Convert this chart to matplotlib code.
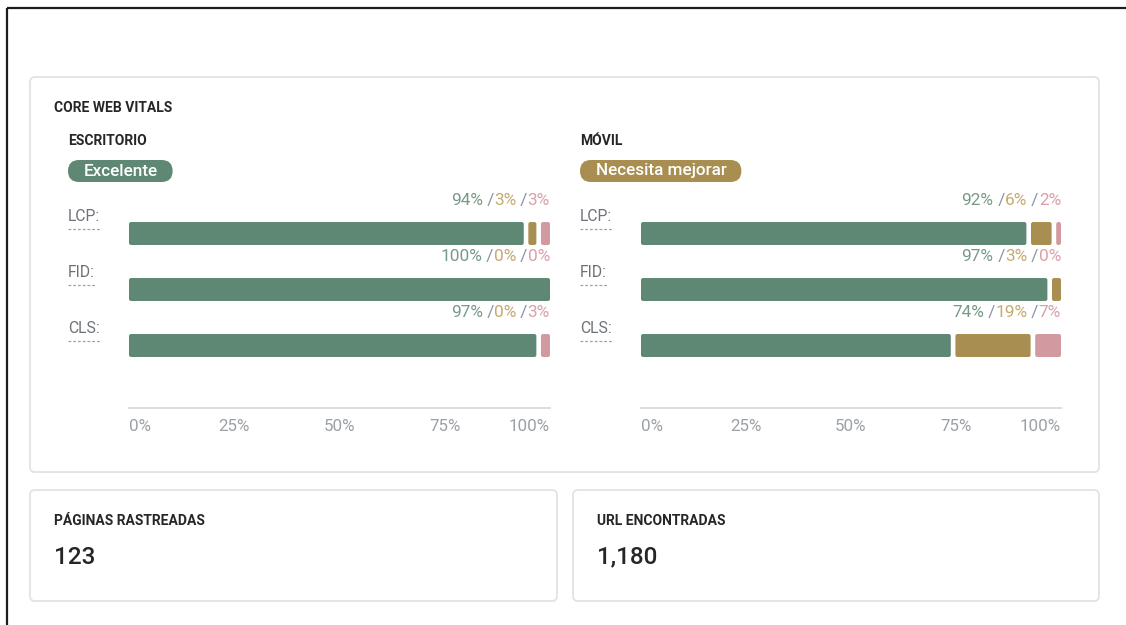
import matplotlib
matplotlib.use("Agg")
import matplotlib.pyplot as plt
from matplotlib.patches import FancyBboxPatch
from matplotlib.lines import Line2D

plt.rcParams['font.family'] = ['Roboto', 'DejaVu Sans']

# ---- data ----
metrics = ["LCP:", "FID:", "CLS:"]
desktop_good = [94, 100, 97]
desktop_improve = [3, 0, 0]
desktop_poor = [3, 0, 3]
mobile_good = [92, 97, 74]
mobile_improve = [6, 3, 19]
mobile_poor = [2, 0, 7]
tick_values = [0, 25, 50, 75, 100]
tick_labels = ["0%", "25%", "50%", "75%", "100%"]
device_titles = ["ESCRITORIO", "MÓVIL"]
device_status = ["Excelente", "Necesita mejorar"]
crawled_pages = 123
found_urls = 1180

# ---- styles ----
GREEN, GOLD, PINK = "#5e8873", "#a88e50", "#d29aa0"
GREEN_T, GOLD_T, PINK_T, SLASH_T = "#779a88", "#c5aa70", "#d9a0a7", "#8a93a3"
DARK = "#262626"
CARD_EDGE = "#e2e3e5"
SMALL_BOLD = 10.0
VALUE_FS = 12.4
TICK_FS = 12.2
LABEL_FS = 11.3
BADGE_FS = 12.3
BIG_FS = 17.5

W, H = 1126, 625
fig = plt.figure(figsize=(W / 100, H / 100), dpi=100)
fig.patch.set_facecolor("white")
bg = fig.add_axes([0, 0, 1, 1])
bg.set_xlim(0, W)
bg.set_ylim(H, 0)
bg.axis("off")

# outer frame (top and left edges)
bg.add_line(Line2D([6.5, 6.5], [8, H], color="#1c1c1c", lw=1.6, solid_capstyle="butt"))
bg.add_line(Line2D([6.5, W], [8, 8], color="#1c1c1c", lw=1.6, solid_capstyle="butt"))


def card(x0, y0, x1, y1):
    shadow = FancyBboxPatch((x0, y0 + 1), x1 - x0, y1 - y0,
                            boxstyle="round,pad=0,rounding_size=5",
                            fc="#eeeeee", ec="none", zorder=0)
    bg.add_patch(shadow)
    bg.add_patch(FancyBboxPatch((x0, y0), x1 - x0, y1 - y0,
                                boxstyle="round,pad=0,rounding_size=5",
                                fc="white", ec=CARD_EDGE, lw=1.3, zorder=1))


card(30, 77, 1099, 472)
card(30, 490, 557, 601)
card(573, 490, 1099, 601)

bg.text(54, 108, "CORE WEB VITALS", fontsize=SMALL_BOLD, fontweight="bold",
        color=DARK, va="center", ha="left", zorder=3)

# bottom summary cards
bg.text(54, 521, "PÁGINAS RASTREADAS", fontsize=SMALL_BOLD, fontweight="bold",
        color=DARK, va="center", ha="left", zorder=3)
bg.text(54, 557, f"{crawled_pages:,}", fontsize=BIG_FS, fontweight="medium",
        color=DARK, va="center", ha="left", zorder=3)
bg.text(597, 521, "URL ENCONTRADAS", fontsize=SMALL_BOLD, fontweight="bold",
        color=DARK, va="center", ha="left", zorder=3)
bg.text(597, 557, f"{found_urls:,}", fontsize=BIG_FS, fontweight="medium",
        color=DARK, va="center", ha="left", zorder=3)

devices = [
    (desktop_good, desktop_improve, desktop_poor),
    (mobile_good, mobile_improve, mobile_poor),
]
panel_x = [(129, 550), (641, 1061)]
title_x = [68, 580]
badge_colors = [GREEN, GOLD]

axes_top, axes_bottom = 190, 408
row_px = 56.0
first_row_px = 233.5
bar_height = 0.41

badge_texts = []
label_artists = []

for d, (good, improve, poor) in enumerate(devices):
    x0, x1 = panel_x[d]
    bg.text(title_x[d], 141, device_titles[d], fontsize=SMALL_BOLD, fontweight="bold",
            color=DARK, va="center", ha="left", zorder=3)
    bt = bg.text(title_x[d] + 15.5, 171, device_status[d], fontsize=BADGE_FS,
                 fontweight="medium", color="white", va="center", ha="left", zorder=4)
    badge_texts.append((bt, badge_colors[d]))

    ax = fig.add_axes([x0 / W, 1 - axes_bottom / H, (x1 - x0) / W,
                       (axes_bottom - axes_top) / H])
    ax.set_zorder(2)
    ax.patch.set_alpha(0)
    ax.set_xlim(0, 100)
    ax.set_ylim((axes_bottom - first_row_px) / row_px,
                -(first_row_px - axes_top) / row_px)

    px_per_x = (x1 - x0) / 100.0
    aspect = (1 / row_px) / (1 / px_per_x)
    gap = 3.6 / px_per_x
    rows = list(range(len(metrics)))

    left = [0] * len(metrics)
    for vals, col in ((good, GREEN), (improve, GOLD), (poor, PINK)):
        bars = ax.barh(rows, vals, left=left, height=bar_height, color=col)
        for rect in bars.patches:
            bx, by, bw, bh = rect.get_x(), rect.get_y(), rect.get_width(), rect.get_height()
            rect.remove()
            if bw <= 0:
                continue
            if bx > 0:
                bx += gap
                bw -= gap
            if bx + bw < 100:
                bw -= 1.0 / px_per_x
            ax.add_patch(FancyBboxPatch((bx, by), bw, bh,
                                        boxstyle="round,pad=0,rounding_size=0.5",
                                        mutation_aspect=aspect,
                                        fc=col, ec="none"))
        left = [l + v for l, v in zip(left, vals)]

    # value labels above each bar, built right-to-left
    for i in rows:
        pieces = [(f"{poor[i]}%", PINK_T), (" /", SLASH_T), (f"{improve[i]}%", GOLD_T),
                  (" /", SLASH_T), (f"{good[i]}%", GREEN_T)]
        prev = ax.annotate(pieces[0][0], xy=(100, i), xycoords="data",
                           xytext=(0, 33.5), textcoords="offset pixels",
                           ha="right", va="center", fontsize=VALUE_FS,
                           color=pieces[0][1], annotation_clip=False)
        for txt, col in pieces[1:]:
            prev = ax.annotate(txt, xy=(0, 0), xycoords=prev, ha="right",
                               va="bottom", fontsize=VALUE_FS, color=col,
                               annotation_clip=False)

        lab = ax.annotate(metrics[i], xy=(0, i), xycoords=("axes fraction", "data"),
                          xytext=(title_x[d] - x0, 17), textcoords="offset pixels",
                          ha="left", va="center", fontsize=LABEL_FS, color="#6c7278",
                          annotation_clip=False)
        label_artists.append((ax, i, lab))

    ax.set_yticks([])
    ax.set_xticks(tick_values, tick_labels)
    ax.tick_params(axis="x", length=0, pad=8, labelsize=TICK_FS, labelcolor="#9aa0a6")
    tls = ax.get_xticklabels()
    tls[0].set_ha("left")
    tls[-1].set_ha("right")
    for side in ("top", "left", "right"):
        ax.spines[side].set_visible(False)
    ax.spines["bottom"].set_color("#dcdee2")
    ax.spines["bottom"].set_linewidth(1.4)

fig.canvas.draw()
renderer = fig.canvas.get_renderer()

# pill-shaped status badges sized from their text
for bt, col in badge_texts:
    bb = bt.get_window_extent(renderer)
    bx0, bx1 = bb.x0 - 15.5, bb.x1 + 15
    bg.add_patch(FancyBboxPatch((bx0, 160), bx1 - bx0, 22,
                                boxstyle="round,pad=0,rounding_size=11",
                                fc=col, ec="none", zorder=3))

# dashed underline beneath each metric label
for ax, i, lab in label_artists:
    bb = lab.get_window_extent(renderer)
    row_y = ax.transData.transform((0, i))[1]
    uy = H - (row_y + 4.5)
    bg.add_line(Line2D([bb.x0, bb.x1], [uy, uy], color="#9aa0a6", lw=0.9,
                       linestyle=(0, (2.2, 1.6)), zorder=3))

fig.savefig("out.png", dpi=100, facecolor="white")
